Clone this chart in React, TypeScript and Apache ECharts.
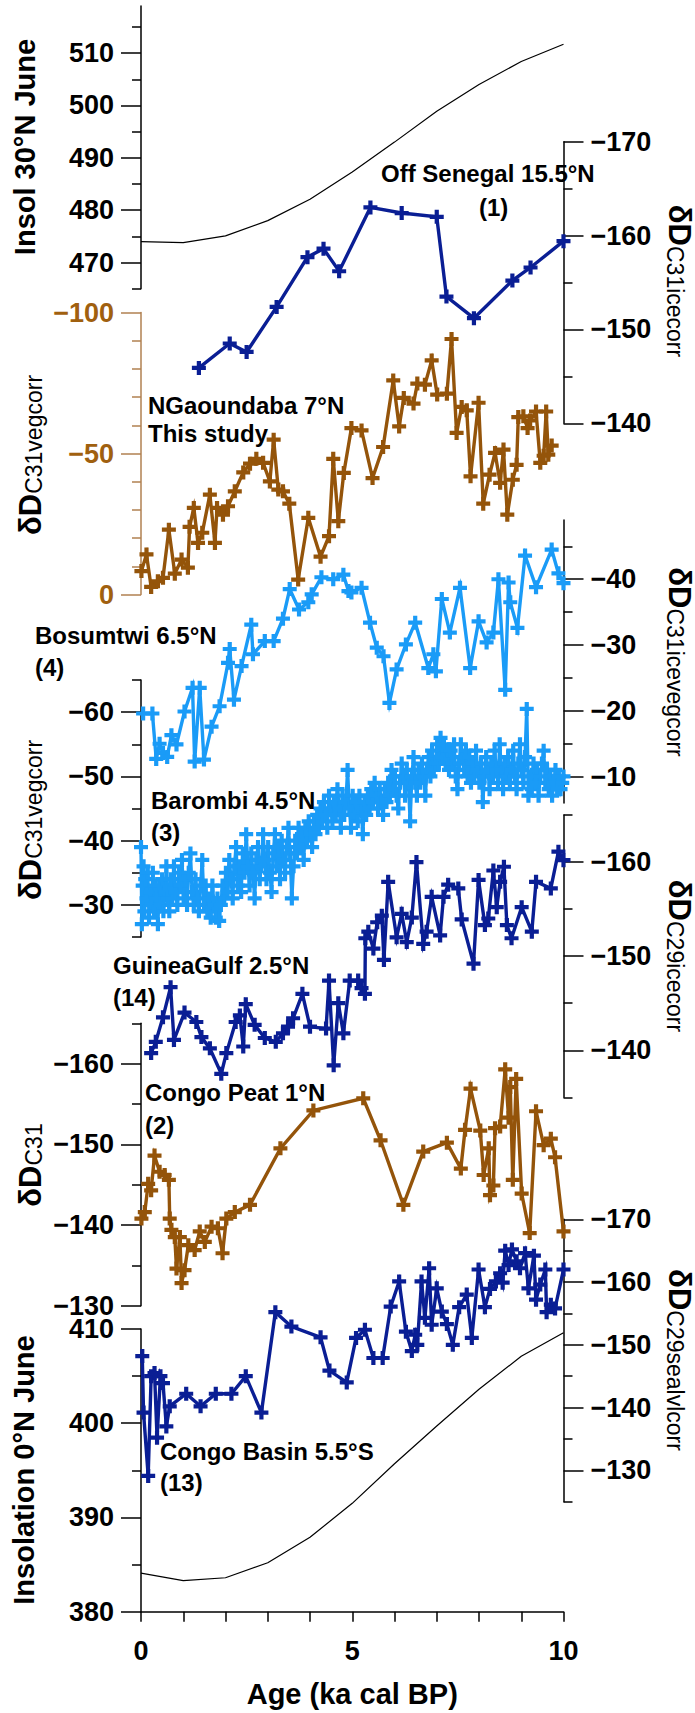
import React, { useEffect, useRef } from 'react';
import * as echarts from 'echarts';

// ---------------- data ----------------
const ageTicks = [0, 1, 2, 3, 4, 5, 6, 7, 8, 9, 10];
const ageLabels = [0, 5, 10];

const insolAge = [0, 1, 2, 3, 4, 5, 6, 7, 8, 9, 10];
const insol30N = [474.0, 473.8, 475.1, 478.0, 482.1, 487.3, 493.0, 498.9, 504.0, 508.4, 511.7];
const insol0N = [384.1, 383.3, 383.6, 385.2, 387.9, 391.5, 395.7, 399.7, 403.6, 407.1, 409.6];

const senegalAge = [1.37, 2.1, 2.5, 3.21, 3.94, 4.32, 4.69, 5.43, 6.17, 7.0, 7.23, 7.88, 8.79, 9.22, 10.0];
const senegalD = [-145.9, -148.5, -147.6, -152.4, -157.7, -158.6, -156.2, -163.0, -162.4, -162.0, -153.5, -151.2, -155.2, -156.6, -159.4];

const ngaoundaba: [number, number][] = [
  [0.01, -8.3], [0.13, -14.2], [0.24, -2.7], [0.4, -4.7], [0.52, -5.9], [0.66, -23.0], [0.8, -7.4], [0.96, -12.4],
  [1.11, -9.5], [1.15, -24.0], [1.25, -30.7], [1.35, -18.3], [1.45, -21.9], [1.63, -35.4], [1.75, -18.3], [1.8, -30.7],
  [1.94, -28.3], [2.06, -31.3], [2.22, -36.6], [2.42, -43.3], [2.58, -46.4], [2.73, -48.1], [2.89, -46.7], [3.05, -40.1],
  [3.14, -54.9], [3.25, -37.2], [3.36, -36.6], [3.51, -32.2], [3.72, -5.3], [3.96, -27.2], [4.25, -13.4], [4.45, -20.7],
  [4.55, -48.1], [4.67, -26.0], [4.8, -43.1], [4.98, -59.0], [5.22, -58.2], [5.48, -41.3], [5.73, -52.3], [5.97, -75.9],
  [6.11, -59.6], [6.22, -69.7], [6.45, -67.7], [6.54, -74.8], [6.72, -74.4], [6.88, -83.0], [7.01, -70.9], [7.24, -71.2],
  [7.35, -90.6], [7.47, -57.3], [7.59, -66.5], [7.71, -65.3], [7.8, -41.9], [7.99, -68.0], [8.1, -32.2], [8.25, -42.5],
  [8.38, -50.2], [8.5, -39.6], [8.58, -51.4], [8.67, -28.3], [8.8, -40.7], [8.89, -46.0], [8.93, -62.9], [9.05, -63.2],
  [9.15, -59.0], [9.21, -61.7], [9.35, -64.9], [9.45, -46.7], [9.53, -49.2], [9.59, -64.9], [9.64, -49.6], [9.72, -52.8]
];

const bosumtwi: [number, number][] = [
  [0.05, -19.6], [0.27, -19.6], [0.36, -12.7], [0.44, -15.0], [0.52, -13.6], [0.62, -13.0], [0.72, -16.3], [0.84, -14.9],
  [1.03, -19.9], [1.22, -23.5], [1.27, -12.3], [1.39, -23.5], [1.49, -12.6], [1.67, -17.6], [1.86, -20.7], [2.06, -27.3],
  [2.1, -29.4], [2.2, -21.7], [2.38, -26.8], [2.61, -33.1], [2.65, -28.6], [2.93, -30.6], [3.14, -30.6], [3.36, -34.0],
  [3.52, -38.5], [3.74, -35.4], [3.96, -36.5], [4.04, -37.7], [4.27, -40.3], [4.55, -40.0], [4.79, -40.7], [4.91, -38.2],
  [4.98, -38.0], [5.22, -38.7], [5.42, -33.4], [5.58, -29.6], [5.74, -28.3], [5.88, -21.2], [6.05, -26.3], [6.27, -30.1],
  [6.49, -33.4], [6.8, -26.5], [6.92, -28.6], [6.98, -26.0], [7.12, -37.0], [7.31, -31.9], [7.55, -38.7], [7.79, -26.5],
  [7.99, -33.6], [8.18, -30.4], [8.34, -31.9], [8.46, -40.0], [8.62, -23.2], [8.7, -39.5], [8.74, -36.5], [8.91, -32.6],
  [9.09, -43.6], [9.35, -38.8], [9.72, -44.5], [9.88, -40.9], [10.0, -39.4]
];

const barombi: [number, number][] = [
  [0.0, -39], [0.02, -27], [0.04, -33], [0.06, -36], [0.08, -29], [0.1, -34], [0.13, -31], [0.16, -35], [0.19, -28],
  [0.22, -32], [0.25, -30], [0.28, -35], [0.31, -29], [0.34, -33], [0.37, -31], [0.4, -27], [0.43, -33], [0.46, -30],
  [0.5, -34], [0.53, -29], [0.57, -32], [0.6, -36], [0.63, -31], [0.67, -29], [0.7, -34], [0.74, -31], [0.78, -36],
  [0.82, -32], [0.86, -30], [0.9, -35], [0.93, -33], [0.97, -37], [1.01, -31], [1.05, -34], [1.09, -30], [1.13, -35],
  [1.17, -38], [1.21, -32], [1.25, -30], [1.29, -34], [1.33, -31], [1.37, -29], [1.41, -33], [1.45, -37], [1.49, -30],
  [1.53, -33], [1.57, -29], [1.61, -31], [1.65, -28], [1.69, -33], [1.73, -30], [1.77, -28], [1.81, -31], [1.85, -27.5],
  [1.89, -30], [1.93, -33], [1.97, -31], [2.01, -35], [2.05, -32], [2.09, -37], [2.13, -34], [2.17, -31], [2.21, -36],
  [2.25, -39], [2.29, -33], [2.33, -36], [2.37, -32], [2.41, -38], [2.45, -35], [2.49, -41], [2.53, -36], [2.57, -33],
  [2.61, -38], [2.65, -35], [2.69, -31], [2.73, -37], [2.77, -39], [2.81, -34], [2.85, -36], [2.89, -41], [2.93, -37],
  [2.97, -34], [3.01, -39], [3.05, -35], [3.09, -32], [3.13, -38], [3.17, -41], [3.21, -36], [3.25, -39], [3.29, -34],
  [3.33, -40], [3.37, -37], [3.41, -35], [3.45, -39], [3.49, -42], [3.53, -38], [3.57, -31], [3.61, -36], [3.65, -40],
  [3.69, -38], [3.73, -42], [3.77, -39], [3.81, -41], [3.85, -37], [3.89, -42], [3.93, -40], [3.97, -43], [4.01, -41],
  [4.05, -39], [4.09, -43], [4.13, -41], [4.17, -44], [4.21, -42], [4.25, -45], [4.29, -43], [4.33, -46], [4.37, -44],
  [4.41, -42], [4.45, -47], [4.49, -45], [4.53, -43], [4.57, -46], [4.61, -44], [4.65, -48], [4.69, -45], [4.73, -42],
  [4.77, -47], [4.81, -44], [4.85, -46], [4.89, -51], [4.93, -45], [4.97, -42], [5.01, -47], [5.05, -44], [5.09, -46],
  [5.13, -43], [5.17, -47], [5.21, -45], [5.25, -41], [5.29, -46], [5.33, -44], [5.37, -47], [5.41, -45], [5.45, -48],
  [5.49, -46], [5.53, -49], [5.57, -47], [5.61, -45], [5.65, -48], [5.69, -46], [5.73, -44], [5.77, -48], [5.81, -46],
  [5.85, -49], [5.89, -47], [5.93, -51], [5.97, -48], [6.01, -50], [6.05, -47], [6.09, -45], [6.13, -49], [6.17, -52],
  [6.21, -50], [6.25, -47], [6.29, -51], [6.33, -49], [6.37, -43], [6.41, -50], [6.45, -53], [6.49, -49], [6.53, -47],
  [6.57, -51], [6.61, -49], [6.65, -52], [6.69, -50], [6.73, -47], [6.77, -51], [6.81, -53], [6.85, -50], [6.89, -54],
  [6.93, -51], [6.97, -52], [7.01, -55], [7.05, -52], [7.09, -56], [7.13, -53], [7.17, -55], [7.21, -52], [7.25, -54],
  [7.29, -51], [7.33, -54], [7.37, -52], [7.41, -55], [7.45, -50], [7.49, -48], [7.53, -52], [7.57, -55], [7.61, -53],
  [7.65, -51], [7.69, -54], [7.73, -50], [7.77, -53], [7.81, -49], [7.85, -52], [7.89, -50], [7.93, -54], [7.97, -51],
  [8.01, -49], [8.05, -52], [8.09, -46], [8.13, -50], [8.17, -53], [8.21, -51], [8.25, -48], [8.29, -52], [8.33, -50],
  [8.37, -54], [8.41, -51], [8.45, -49], [8.49, -55], [8.53, -51], [8.57, -48], [8.61, -52], [8.65, -50], [8.69, -53],
  [8.73, -49], [8.77, -51], [8.81, -54], [8.85, -50], [8.89, -48], [8.93, -52], [8.97, -55], [9.01, -51], [9.05, -49],
  [9.09, -53], [9.13, -60.5], [9.17, -47], [9.21, -50], [9.25, -48], [9.29, -52], [9.33, -49], [9.37, -51], [9.41, -47],
  [9.45, -50], [9.49, -52], [9.53, -54], [9.57, -49], [9.61, -51], [9.65, -48], [9.69, -50], [9.73, -47], [9.77, -49],
  [9.81, -51], [9.85, -48], [9.89, -50], [9.93, -48], [9.97, -49], [10.0, -50]
];

const guineaGulf: [number, number][] = [
  [0.24, -139.7], [0.35, -140.9], [0.52, -143.5], [0.7, -146.7], [0.78, -141.1], [1.03, -144.0], [1.31, -143.0],
  [1.43, -141.4], [1.63, -140.2], [1.9, -137.5], [2.02, -139.7], [2.24, -143.0], [2.34, -143.7], [2.42, -140.4],
  [2.48, -144.9], [2.69, -142.7], [2.93, -141.3], [3.19, -140.9], [3.36, -141.8], [3.48, -142.5], [3.6, -143.4],
  [3.82, -146.0], [4.0, -142.5], [4.38, -142.3], [4.45, -147.4], [4.56, -138.4], [4.67, -145.0], [4.79, -141.8],
  [4.94, -147.4], [5.14, -147.4], [5.22, -146.6], [5.3, -146.0], [5.31, -151.9], [5.38, -152.6], [5.5, -150.8],
  [5.59, -153.6], [5.7, -154.3], [5.75, -149.6], [5.85, -157.9], [6.05, -152.0], [6.17, -154.5], [6.29, -151.5],
  [6.41, -154.1], [6.52, -160.0], [6.68, -151.3], [6.76, -152.6], [6.88, -156.3], [7.08, -152.2], [7.16, -156.3],
  [7.27, -157.6], [7.51, -157.2], [7.59, -153.9], [7.87, -149.2], [7.99, -158.1], [8.14, -153.3], [8.22, -154.0],
  [8.34, -159.1], [8.42, -155.2], [8.5, -157.9], [8.59, -159.5], [8.66, -153.3], [8.77, -151.9], [9.01, -155.2],
  [9.25, -152.6], [9.35, -157.9], [9.7, -157.2], [9.88, -161.1], [10.0, -160.2]
];

const congoPeat: [number, number][] = [
  [0.01, -140.8], [0.09, -141.6], [0.17, -145.1], [0.24, -144.3], [0.32, -148.6], [0.44, -146.6], [0.56, -146.2],
  [0.66, -145.6], [0.68, -140.8], [0.72, -139.4], [0.8, -138.5], [0.84, -134.6], [0.92, -138.5], [0.96, -132.8],
  [1.03, -134.4], [1.12, -137.5], [1.27, -136.9], [1.39, -139.2], [1.51, -137.9], [1.67, -139.8], [1.82, -139.6],
  [1.93, -136.5], [2.02, -140.8], [2.22, -141.6], [2.58, -142.5], [3.3, -149.5], [4.08, -154.2], [5.26, -155.7],
  [5.67, -150.5], [6.21, -142.5], [6.68, -149.1], [7.24, -150.2], [7.57, -147.0], [7.67, -151.8], [7.8, -156.9],
  [8.03, -151.7], [8.11, -146.2], [8.23, -149.5], [8.26, -143.7], [8.34, -144.9], [8.38, -152.0], [8.5, -152.2],
  [8.62, -159.3], [8.7, -153.3], [8.74, -157.1], [8.8, -145.6], [8.88, -158.1], [9.01, -143.9], [9.2, -139.0],
  [9.35, -154.1], [9.53, -149.9], [9.7, -150.7], [9.8, -148.4], [10.0, -139.2]
];

const congoBasin: [number, number][] = [
  [0.03, -148.2], [0.06, -139.2], [0.17, -129.1], [0.24, -145.0], [0.32, -145.5], [0.38, -135.2], [0.46, -145.0],
  [0.52, -143.9], [0.6, -137.0], [0.68, -140.2], [1.07, -142.2], [1.41, -140.2], [1.77, -142.2], [2.14, -142.2],
  [2.48, -145.0], [2.85, -139.2], [3.18, -155.2], [3.56, -152.9], [4.25, -151.2], [4.46, -145.9], [4.87, -144.0],
  [5.09, -151.1], [5.3, -152.4], [5.5, -147.9], [5.72, -147.9], [5.91, -156.1], [6.11, -160.1], [6.27, -152.1],
  [6.41, -149.0], [6.49, -151.6], [6.54, -150.0], [6.64, -160.1], [6.72, -154.3], [6.82, -162.2], [6.88, -153.2],
  [7.0, -159.0], [7.12, -155.3], [7.24, -153.3], [7.38, -150.0], [7.53, -156.0], [7.71, -158.0], [7.83, -151.1],
  [7.99, -162.0], [8.14, -156.0], [8.26, -158.9], [8.4, -160.1], [8.5, -161.4], [8.56, -159.9], [8.62, -165.0],
  [8.7, -162.7], [8.78, -165.2], [8.89, -163.3], [8.97, -162.2], [9.09, -164.6], [9.17, -159.0], [9.3, -164.2],
  [9.35, -157.2], [9.45, -159.6], [9.57, -162.0], [9.6, -155.2], [9.7, -156.4], [9.8, -155.8], [10.0, -162.0]
];

// tick labels (major) and minor ticks per panel
const insol30Major = [470, 480, 490, 500, 510];
const insol30Minor = [465, 475, 485, 495, 505, 515];
const senegalMajor = [-170, -160, -150, -140];
const senegalMinor = [-165, -155, -145];
const ngaMajor = [-100, -50, 0];
const ngaMinor = [-90, -80, -70, -60, -40, -30, -20, -10];
const bosMajor = [-40, -30, -20, -10];
const bosMinor = [-45, -35, -25, -15];
const barMajor = [-60, -50, -40, -30];
const barMinor = [-65, -55, -45, -35, -25];
const guiMajor = [-160, -150, -140];
const guiMinor = [-165, -155, -145, -135];
const peatMajor = [-160, -150, -140, -130];
const peatMinor = [-165, -155, -145, -135];
const basinMajor = [-170, -160, -150, -140, -130];
const basinMinor = [-165, -155, -145, -135, -125];
const insol0Major = [380, 390, 400, 410];
const insol0Minor = [385, 395, 405];

// ---------------- style ----------------
const FONT = '"Liberation Sans", Arial, Helvetica, sans-serif';
const PLUS = 'path://M3.5,0L6.5,0L6.5,3.5L10,3.5L10,6.5L6.5,6.5L6.5,10L3.5,10L3.5,6.5L0,6.5L0,3.5L3.5,3.5Z';
const DARK = '#0A1E94';
const LIGHT = '#1A9BF7';
const BROWN = '#94540A';
const BROWN_AXIS = '#B08050';
const BROWN_LABEL = '#A0600F';
const GRID_LEFT = 141;
const GRID_WIDTH = 422.5;

type PanelCfg = {
  top: number; height: number; min: number; max: number; inverse: boolean;
  side: 'left' | 'right'; major: number[]; minor: number[]; axisColor: string; labelColor: string;
};

const panels: PanelCfg[] = [
  { top: 6, height: 282.7, min: 465, max: 519, inverse: false, side: 'left', major: insol30Major, minor: insol30Minor, axisColor: '#000', labelColor: '#000' },
  { top: 141.7, height: 281.6, min: -170, max: -140, inverse: true, side: 'right', major: senegalMajor, minor: senegalMinor, axisColor: '#000', labelColor: '#000' },
  { top: 312.5, height: 282, min: -100, max: 0, inverse: true, side: 'left', major: ngaMajor, minor: ngaMinor, axisColor: BROWN_AXIS, labelColor: BROWN_LABEL },
  { top: 520, height: 283, min: -49, max: -6, inverse: true, side: 'right', major: bosMajor, minor: bosMinor, axisColor: '#000', labelColor: '#000' },
  { top: 680, height: 257, min: -65, max: -25, inverse: true, side: 'left', major: barMajor, minor: barMinor, axisColor: '#000', labelColor: '#000' },
  { top: 815, height: 282.3, min: -165, max: -135, inverse: true, side: 'right', major: guiMajor, minor: guiMinor, axisColor: '#000', labelColor: '#000' },
  { top: 1023.3, height: 282.4, min: -165, max: -130, inverse: true, side: 'left', major: peatMajor, minor: peatMinor, axisColor: '#000', labelColor: '#000' },
  { top: 1219.3, height: 282.4, min: -170, max: -125, inverse: true, side: 'right', major: basinMajor, minor: basinMinor, axisColor: '#000', labelColor: '#000' },
  { top: 1329, height: 282.7, min: 380, max: 410, inverse: false, side: 'left', major: insol0Major, minor: insol0Minor, axisColor: '#000', labelColor: '#000' }
];

const fmt = (v: number) => (v < 0 ? '\u2212' + Math.abs(v) : String(v));

function buildOption() {
  const grid: any[] = [];
  const xAxis: any[] = [];
  const yAxis: any[] = [];
  panels.forEach((p, i) => {
    grid.push({ left: GRID_LEFT, width: GRID_WIDTH, top: p.top, height: p.height, containLabel: false, outerBoundsMode: 'none' });
    const isBottom = i === panels.length - 1;
    xAxis.push({
      gridIndex: i, type: 'value', min: 0, max: 10, show: isBottom,
      splitLine: { show: false },
      axisLine: { show: true, onZero: false, lineStyle: { color: '#000', width: 1.5 } },
      axisTick: { show: true, customValues: ageTicks, length: 10, lineStyle: { color: '#000', width: 1.5 } },
      axisLabel: { show: true, customValues: ageLabels, margin: 26, fontSize: 27, fontWeight: 'bold', fontFamily: FONT, color: '#000' },
      name: isBottom ? 'Age (ka cal BP)' : '',
      nameLocation: 'middle', nameGap: 68,
      nameTextStyle: { fontSize: 29, fontWeight: 'bold', fontFamily: FONT, color: '#000' }
    });
    yAxis.push({
      gridIndex: i, type: 'value', min: p.min, max: p.max, inverse: p.inverse, position: p.side,
      splitLine: { show: false },
      axisLine: { show: true, onZero: false, lineStyle: { color: p.axisColor, width: 1.5 } },
      axisTick: { show: true, customValues: p.major, length: 20, lineStyle: { color: p.axisColor, width: 1.5 } },
      axisLabel: {
        show: true, customValues: p.major, margin: 27, fontSize: 27, lineHeight: 20, fontWeight: 'bold',
        fontFamily: FONT, color: p.labelColor, formatter: fmt
      }
    });
    yAxis.push({
      gridIndex: i, type: 'value', min: p.min, max: p.max, inverse: p.inverse, position: p.side,
      splitLine: { show: false },
      axisLine: { show: false, onZero: false },
      axisTick: { show: true, customValues: p.minor, length: 9, lineStyle: { color: p.axisColor, width: 1.5 } },
      axisLabel: { show: false }
    });
  });

  const proxy = (panel: number, data: [number, number][], color: string) => ({
    type: 'line', xAxisIndex: panel, yAxisIndex: panel * 2, data,
    symbol: PLUS, symbolSize: 14, showSymbol: true, clip: false,
    itemStyle: { color },
    lineStyle: { color, width: 3.4, join: 'miter', miterLimit: 6 },
    emphasis: { disabled: true }
  });
  const thin = (panel: number, data: [number, number][]) => ({
    type: 'line', xAxisIndex: panel, yAxisIndex: panel * 2, data,
    symbol: 'none', clip: false,
    lineStyle: { color: '#000', width: 1.2 }, emphasis: { disabled: true }
  });

  const series = [
    thin(0, insolAge.map((a, k) => [a, insol30N[k]] as [number, number])),
    proxy(1, senegalAge.map((a, k) => [a, senegalD[k]] as [number, number]), DARK),
    proxy(2, ngaoundaba, BROWN),
    proxy(3, bosumtwi, LIGHT),
    proxy(4, barombi, LIGHT),
    proxy(5, guineaGulf, DARK),
    proxy(6, congoPeat, BROWN),
    proxy(7, congoBasin, DARK),
    thin(8, insolAge.map((a, k) => [a, insol0N[k]] as [number, number]))
  ];

  const label = (text: string, x: number, y: number) => ({
    type: 'text', x, y, z: 100,
    style: { text, fontSize: 24, fontWeight: 'bold', fontFamily: FONT, fill: '#000', align: 'left', verticalAlign: 'middle' }
  });
  const plainTitle = (text: string, x: number, y: number) => ({
    type: 'text', x, y, rotation: Math.PI / 2, z: 100,
    style: { text, fontSize: 29, fontWeight: 'bold', fontFamily: FONT, fill: '#000', align: 'center', verticalAlign: 'middle' }
  });
  const deltaTitle = (sub: string, x: number, y: number, left: boolean) => ({
    type: 'text', x, y, rotation: left ? Math.PI / 2 : -Math.PI / 2, z: 100,
    style: {
      text: '{d|\u03B4D}{s|' + sub + '}',
      align: 'center', verticalAlign: 'middle', fill: '#000',
      rich: {
        d: { fontSize: 31, fontWeight: 'bold', fontFamily: FONT, fill: '#000', verticalAlign: 'bottom' },
        s: { fontSize: 23, fontWeight: 'normal', fontFamily: FONT, fill: '#000', verticalAlign: 'bottom' }
      }
    }
  });

  const graphic = [
    plainTitle('Insol 30\u00B0N June', 25, 147),
    deltaTitle('C31vegcorr', 30, 455, true),
    deltaTitle('C31vegcorr', 30, 820, true),
    deltaTitle('C31', 30, 1165, true),
    plainTitle('Insolation 0\u00B0N June', 24, 1470),
    deltaTitle('C31icecorr', 679, 281, false),
    deltaTitle('C31icevegcorr', 679, 662, false),
    deltaTitle('C29icecorr', 679, 956, false),
    deltaTitle('C29sealvlcorr', 679, 1360, false),
    label('Off Senegal 15.5\u00B0N', 381, 173),
    label('(1)', 479, 207),
    label('NGaoundaba 7\u00B0N', 148, 405),
    label('This study', 148, 433),
    label('Bosumtwi 6.5\u00B0N', 35, 635),
    label('(4)', 35, 667),
    label('Barombi 4.5\u00B0N', 151, 800),
    label('(3)', 151, 832),
    label('GuineaGulf 2.5\u00B0N', 113, 965),
    label('(14)', 113, 997),
    label('Congo Peat 1\u00B0N', 145, 1092),
    label('(2)', 145, 1125),
    label('Congo Basin 5.5\u00B0S', 160, 1451),
    label('(13)', 160, 1482)
  ];

  return {
    animation: false,
    backgroundColor: '#fff',
    textStyle: { fontFamily: FONT },
    grid, xAxis, yAxis, series, graphic
  };
}

export default function App() {
  const ref = useRef<HTMLDivElement>(null);
  useEffect(() => {
    if (!ref.current) return;
    const chart = echarts.init(ref.current, null, { renderer: 'svg' });
    chart.setOption(buildOption() as any);
    return () => chart.dispose();
  }, []);
  return <div ref={ref} style={{ position: 'absolute', left: 0, top: 0, width: 695, height: 1713 }} />;
}
